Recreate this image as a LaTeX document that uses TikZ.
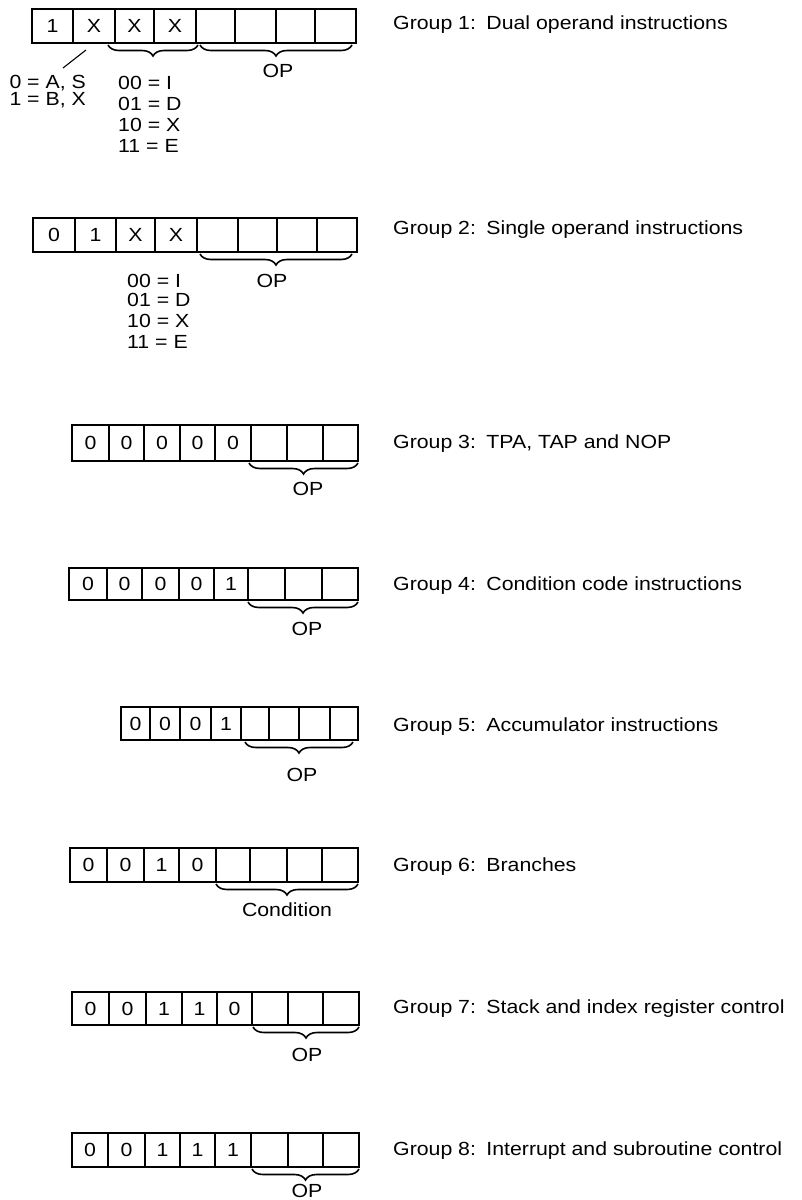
\documentclass[tikz,border=0pt]{standalone}
\usepackage{fontspec}
\setmainfont{Liberation Sans}[FakeStretch=1.12]
\usetikzlibrary{decorations.pathreplacing}
\newcommand\regrow[4]{%
  \foreach \xa/\xb/\tx [count=\i] in {#4} {
    \node[cell, minimum width={(\xb-\xa)*1pt}, minimum height={(#3-#2)*1pt}] (#1c\i) at ({(\xa+\xb)/2},{(#2+#3)/2}) {\tx};
  }}
\begin{document}
\begin{tikzpicture}[x=1pt,y=-1pt,
  cell/.style={draw, line width=1.3pt, inner sep=0pt, outer sep=0pt, font=\fontsize{19}{22}\selectfont},
  lbl/.style={font=\fontsize{19}{22}\selectfont, inner sep=0pt, anchor=west},
  txt/.style={font=\fontsize{19}{22}\selectfont, inner sep=0pt},
  brc/.style={decorate, decoration={brace, mirror, amplitude=11pt}, line width=1.6pt}]
\useasboundingbox (0,0) rectangle (801,1200);

% ---------- Group 1
\regrow{g1}{9}{43}{32/73/1,73/115/X,115/154/X,154/196/X,196/235/{},235/276/{},276/315/{},315/356/{}}
\draw[brc] ([xshift=-7pt,yshift=-2pt]g1c3.south west) -- ([xshift=2pt,yshift=-2pt]g1c4.south east);
\draw[brc] ([xshift=4pt,yshift=-2pt]g1c5.south west) -- ([xshift=-4pt,yshift=-2pt]g1c8.south east);
\node[txt] (g1op) at (278,71) {OP};
\coordinate (s1) at (86,50);
\coordinate (s2) at (63,68);
\draw[line width=1.1pt] (s1) -- (s2);
\node[txt, anchor=east] (g1a) at (86,83) {0 = A, S};
\node[txt, anchor=east] (g1b) at (86,100) {1 = B, X};
\node[txt, anchor=west] (g1m1) at (118,83) {00 = I};
\node[txt, anchor=west] (g1m2) at (118,104) {01 = D};
\node[txt, anchor=west] (g1m3) at (118,125) {10 = X};
\node[txt, anchor=west] (g1m4) at (118,146) {11 = E};
\node[lbl] (g1l) at (393,25) {Group 1:\hspace{0.55em}Dual operand instructions};

% ---------- Group 2
\regrow{g2}{218}{252}{33/75/0,75/116/1,116/155/X,155/197/X,197/238/{},238/277/{},277/317/{},317/357/{}}
\draw[brc] ([xshift=3pt,yshift=-2pt]g2c5.south west) -- ([xshift=-5pt,yshift=-2pt]g2c8.south east);
\node[txt] (g2op) at (272,281) {OP};
\node[txt, anchor=west] (g2m1) at (127,281) {00 = I};
\node[txt, anchor=west] (g2m2) at (127,300) {01 = D};
\node[txt, anchor=west] (g2m3) at (127,321) {10 = X};
\node[txt, anchor=west] (g2m4) at (127,342) {11 = E};
\node[lbl] (g2l) at (393,230) {Group 2:\hspace{0.55em}Single operand instructions};

% ---------- Group 3
\regrow{g3}{425}{461}{72/109/0,109/144/0,144/180/0,180/215/0,215/251/0,251/287/{},287/323/{},323/358/{}}
\draw[brc] ([xshift=-2pt,yshift=-2pt]g3c6.south west) -- ([yshift=-2pt]g3c8.south east);
\node[txt] (g3op) at (308,489) {OP};
\node[lbl] (g3l) at (393,444) {Group 3:\hspace{0.55em}TPA, TAP and NOP};

% ---------- Group 4
\regrow{g4}{568}{600}{69/107/0,107/142/0,142/179/0,179/214/0,214/248/1,248/285/{},285/322/{},322/358/{}}
\draw[brc] ([yshift=-2pt]g4c6.south west) -- ([yshift=-2pt]g4c8.south east);
\node[txt] (g4op) at (307,629) {OP};
\node[lbl] (g4l) at (393,586) {Group 4:\hspace{0.55em}Condition code instructions};

% ---------- Group 5
\regrow{g5}{707}{740}{121/150/0,150/180/0,180/211/0,211/241/1,241/269/{},269/299/{},299/330/{},330/358/{}}
\draw[brc] ([xshift=4pt,yshift=-2pt]g5c5.south west) -- ([xshift=-5pt,yshift=-2pt]g5c8.south east);
\node[txt] (g5op) at (302,775) {OP};
\node[lbl] (g5l) at (393,727) {Group 5:\hspace{0.55em}Accumulator instructions};

% ---------- Group 6
\regrow{g6}{848}{882}{70/107/0,107/144/0,144/179/1,179/216/0,216/250/{},250/287/{},287/322/{},322/358/{}}
\draw[brc] ([yshift=-2pt]g6c5.south west) -- ([yshift=-2pt]g6c8.south east);
\node[txt] (g6op) at (287,910) {Condition};
\node[lbl] (g6l) at (393,867) {Group 6:\hspace{0.55em}Branches};

% ---------- Group 7
\regrow{g7}{992}{1025}{72/109/0,109/146/0,146/182/1,182/217/1,217/252/0,252/288/{},288/323/{},323/359/{}}
\draw[brc] ([xshift=1pt,yshift=-2pt]g7c6.south west) -- ([yshift=-2pt]g7c8.south east);
\node[txt] (g7op) at (307,1055) {OP};
\node[lbl] (g7l) at (393,1009) {Group 7:\hspace{0.55em}Stack and index register control};

% ---------- Group 8
\regrow{g8}{1133}{1167}{72/108/0,108/145/0,145/180/1,180/215/1,215/251/1,251/288/{},288/323/{},323/359/{}}
\draw[brc] ([xshift=1pt,yshift=-2pt]g8c6.south west) -- ([yshift=-2pt]g8c8.south east);
\node[txt] (g8op) at (307,1191) {OP};
\node[lbl] (g8l) at (393,1151) {Group 8:\hspace{0.55em}Interrupt and subroutine control};
\end{tikzpicture}
\end{document}
